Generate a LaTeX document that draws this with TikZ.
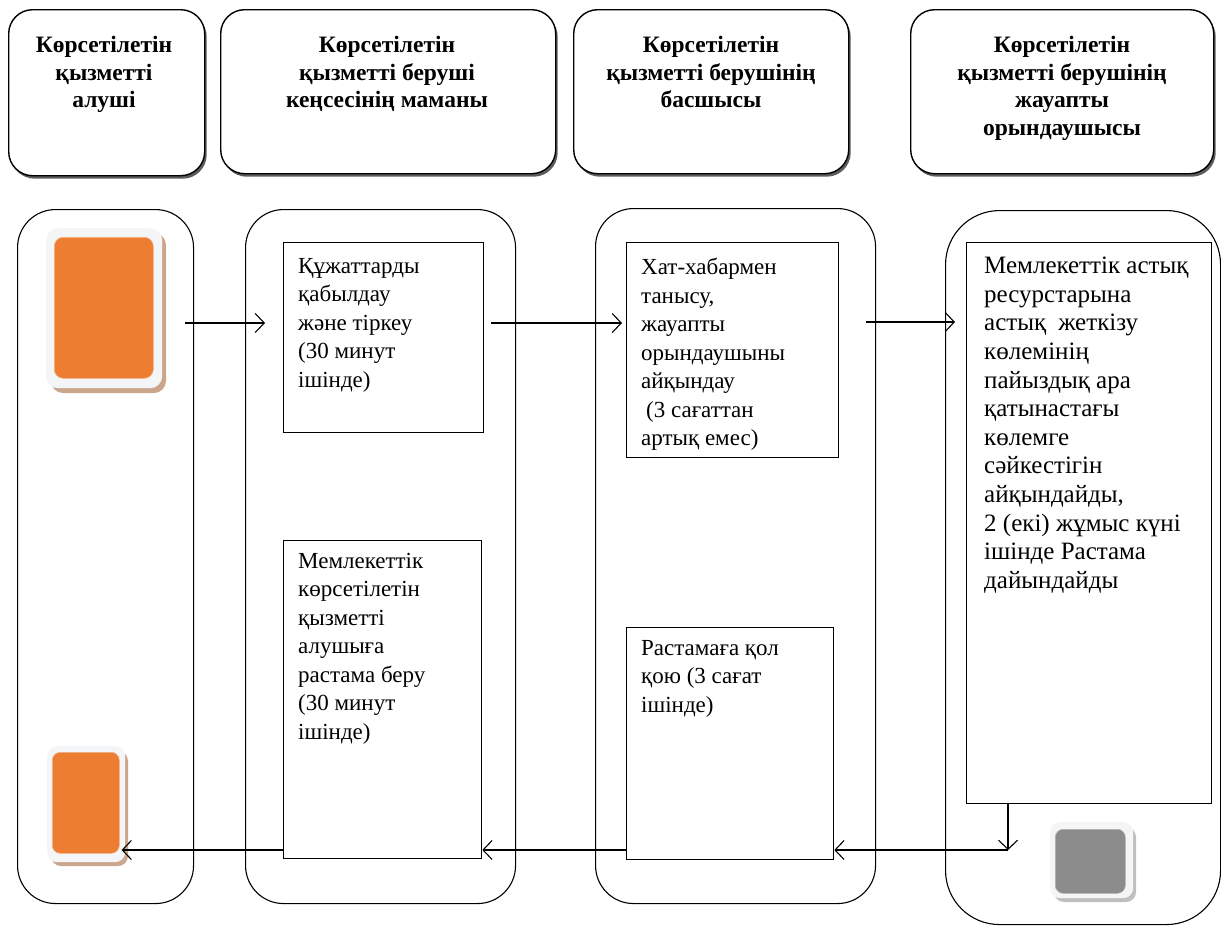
\documentclass[tikz,border=0pt]{standalone}
\usepackage{fontspec}
\setmainfont{Liberation Serif}
\usetikzlibrary{shadows,arrows.meta}
\definecolor{org}{HTML}{ED7D31}
\definecolor{pale}{HTML}{F3F5F7}
\definecolor{tanshadow}{HTML}{C9A68C}
\definecolor{grayfill}{HTML}{8C8C8C}
\begin{document}
\begin{tikzpicture}[x=1pt,y=-1pt,
  hdr/.style={draw=black, line width=1.4pt, rounded corners=24pt, fill=white, anchor=north west,
    drop shadow={shadow xshift=2pt, shadow yshift=-3pt, fill=black!75, opacity=0.85}},
  lane/.style={draw=black, line width=1.1pt, rounded corners=38pt, anchor=north west},
  proc/.style={draw=black, line width=1.3pt, fill=white, anchor=north west},
  htext/.style={font=\fontsize{23.5}{27.7}\selectfont\bfseries, align=center, anchor=north, inner sep=0pt},
  ptext/.style={font=\fontsize{23}{28.5}\selectfont, align=left, anchor=north west, inner sep=0pt},
  widetext/.style={ptext, font=\fontsize{25}{28.6}\selectfont},
  iconbg/.style={fill=pale, rounded corners=12pt, anchor=north west},
  orangebox/.style={fill=org, draw=org!60, line width=0.6pt, rounded corners=9pt, anchor=north west},
  graybox/.style={fill=grayfill, draw=grayfill!70, line width=0.6pt, rounded corners=9pt, anchor=north west},
  arr/.style={line width=1.1pt, -{Straight Barb[length=9pt, width=19pt, line width=1.1pt]}},
]
\useasboundingbox (0,0) rectangle (1221,926);

% header boxes
\node[hdr, minimum width=196pt, minimum height=166pt] (h1) at (8,9) {};
\node[hdr, minimum width=335pt, minimum height=164pt] (h2) at (220,9) {};
\node[hdr, minimum width=275pt, minimum height=164pt] (h3) at (573,9) {};
\node[hdr, minimum width=303pt, minimum height=164pt] (h4) at (910,9) {};
\node[htext] (t1) at (104,36) {Көрсетілетін\\қызметті\\алуші};
\node[htext] (t2) at (387,36) {Көрсетілетін\\қызметті беруші\\кеңсесінің маманы};
\node[htext] (t3) at (711,36) {Көрсетілетін\\қызметті берушінің\\басшысы};
\node[htext] (t4) at (1062,36) {Көрсетілетін\\қызметті берушінің\\жауапты\\орындаушысы};

% lanes
\node[lane, minimum width=176pt, minimum height=694pt] (l1) at (17,209) {};
\node[lane, minimum width=270pt, minimum height=694pt] (l2) at (245,209) {};
\node[lane, minimum width=280pt, minimum height=695pt] (l3) at (595,208) {};
\node[lane, minimum width=275pt, minimum height=714pt, rounded corners=54pt] (l4) at (945,210) {};

% icons
\fill[tanshadow, rounded corners=12pt] (51,233) rectangle (166,393);
\node[iconbg, minimum width=116pt, minimum height=160pt] (o1bg) at (46,228) {};
\node[orangebox, minimum width=99pt, minimum height=141pt] (o1) at (54,237) {};

\fill[tanshadow, rounded corners=10pt] (51,751) rectangle (128,866);
\node[iconbg, minimum width=78pt, minimum height=116pt, rounded corners=10pt] (o2bg) at (47,746) {};
\node[orangebox, minimum width=67pt, minimum height=101pt, rounded corners=8pt] (o2) at (52,752) {};

\fill[black!25, rounded corners=10pt] (1054,827) rectangle (1136,902);
\node[iconbg, minimum width=83pt, minimum height=76pt, rounded corners=10pt] (gbg) at (1050,822) {};
\node[graybox, minimum width=70pt, minimum height=64pt, rounded corners=8pt] (g) at (1055,829) {};

% process boxes
\node[proc, minimum width=200pt, minimum height=190pt] (p1) at (283,242) {};
\node[proc, minimum width=212pt, minimum height=215pt] (p2) at (626,242) {};
\node[proc, minimum width=245pt, minimum height=561pt] (p3) at (966,242) {};
\node[proc, minimum width=198pt, minimum height=318pt] (p4) at (283,540) {};
\node[proc, minimum width=207pt, minimum height=232pt] (p5) at (626,627) {};

\node[ptext] (x1) at (298,258) {Құжаттарды\\қабылдау\\және тіркеу\\(30 минут\\ішінде)};
\node[ptext] (x2) at (641,258) {Хат-хабармен\\танысу,\\жауапты\\орындаушыны\\айқындау\\\hspace*{5pt}(3 сағаттан\\артық емес)};
\node[widetext] (x3) at (984,257) {Мемлекеттік астық\\ресурстарына\\астық\hspace*{12pt}жеткізу\\көлемінің\\пайыздық ара\\қатынастағы\\көлемге\\сәйкестігін\\айқындайды,\\2 (екі) жұмыс күні\\ішінде Растама\\дайындайды};
\node[ptext] (x4) at (298,553) {Мемлекеттік\\көрсетілетін\\қызметті\\алушыға\\растама беру\\(30 минут\\ішінде)};
\node[ptext] (x5) at (641,640) {Растамаға қол\\қою (3 сағат\\ішінде)};

% connectors
\coordinate (ya) at (0,323);
\coordinate (yb) at (0,322);
\coordinate (yc) at (0,850);
\coordinate (c1) at (1008,850);
\draw[arr, shorten <=31pt, shorten >=18pt] (o1.east |- ya) -- (p1.west |- ya);
\draw[arr, shorten <=7pt, shorten >=4pt] (p1.east |- ya) -- (p2.west |- ya);
\draw[arr, shorten <=27pt, shorten >=11pt] (p2.east |- yb) -- (p3.west |- yb);
\draw[arr] (p3.south -| c1) -- (c1);
\draw[arr] (c1) -- (p5.east |- yc);
\draw[arr] (p5.west |- yc) -- (p4.east |- yc);
\draw[arr, shorten >=2pt] (p4.west |- yc) -- (o2.east |- yc);
\end{tikzpicture}
\end{document}
